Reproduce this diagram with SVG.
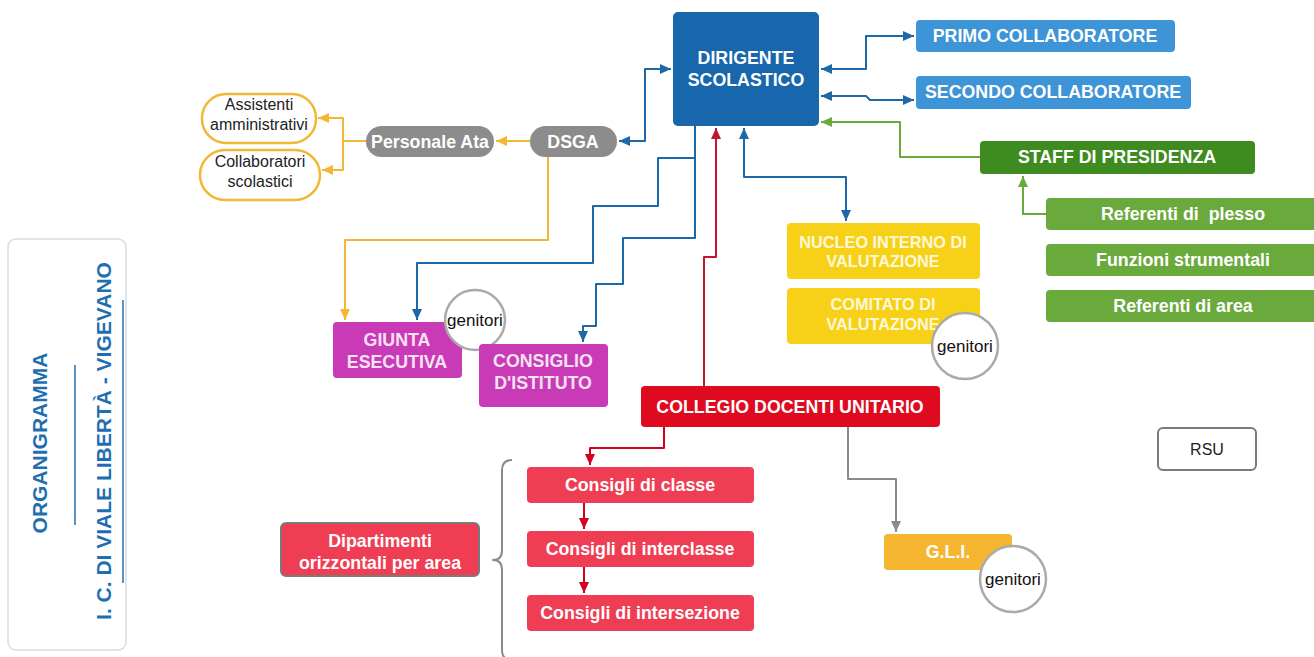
<svg xmlns="http://www.w3.org/2000/svg" width="1314" height="657" viewBox="0 0 1314 657">
<style>
.t{font-family:"Liberation Sans",Arial,sans-serif;font-weight:bold;font-size:17.8px;fill:#ffffff;text-anchor:middle}
.ty{font-family:"Liberation Sans",Arial,sans-serif;font-weight:bold;font-size:16.3px;fill:#fff8d8;text-anchor:middle}
.r{font-family:"Liberation Sans",Arial,sans-serif;font-size:16px;fill:#222;text-anchor:middle}
.g{font-family:"Liberation Sans",Arial,sans-serif;font-size:17px;fill:#111;text-anchor:middle}
.v{font-family:"Liberation Sans",Arial,sans-serif;font-weight:bold;font-size:21px;fill:#1f6fb0;text-anchor:middle}
.c{fill:none;stroke-width:2;stroke-linejoin:round}
.blue{stroke:#1c68a8}.green{stroke:#6aaa3c}.yel{stroke:#f2b734}.red{stroke:#d4001f}.dred{stroke:#c0172d}.gray{stroke:#8a8a8a}
.circ{fill:#fff;stroke:#aaaaaa;stroke-width:2.5}
</style>
<defs>
<marker id="mb" markerUnits="userSpaceOnUse" markerWidth="12" markerHeight="12" refX="11" refY="6" orient="auto-start-reverse"><path d="M0,1 L11,6 L0,11 z" fill="#1c68a8"/></marker>
<marker id="mg" markerUnits="userSpaceOnUse" markerWidth="12" markerHeight="12" refX="11" refY="6" orient="auto-start-reverse"><path d="M0,1 L11,6 L0,11 z" fill="#6aaa3c"/></marker>
<marker id="my" markerUnits="userSpaceOnUse" markerWidth="12" markerHeight="12" refX="11" refY="6" orient="auto-start-reverse"><path d="M0,1 L11,6 L0,11 z" fill="#f2b734"/></marker>
<marker id="mr" markerUnits="userSpaceOnUse" markerWidth="12" markerHeight="12" refX="11" refY="6" orient="auto-start-reverse"><path d="M0,1 L11,6 L0,11 z" fill="#d4001f"/></marker>
<marker id="mdr" markerUnits="userSpaceOnUse" markerWidth="12" markerHeight="12" refX="11" refY="6" orient="auto-start-reverse"><path d="M0,1 L11,6 L0,11 z" fill="#c0172d"/></marker>
<marker id="mgr" markerUnits="userSpaceOnUse" markerWidth="12" markerHeight="12" refX="11" refY="6" orient="auto-start-reverse"><path d="M0,1 L11,6 L0,11 z" fill="#8a8a8a"/></marker>
</defs>
<rect width="1314" height="657" fill="#ffffff"/>

<g id="title-panel">
<rect x="8" y="239" width="118" height="411" rx="8" fill="#fff" stroke="#d8dde3" stroke-width="1.5"/>
<text class="v" transform="translate(47,443) rotate(-90)">ORGANIGRAMMA</text>
<line x1="75" y1="365" x2="75" y2="525" stroke="#1f6fb0" stroke-width="1.5"/>
<text class="v" transform="translate(111,441) rotate(-90)">I. C. DI VIALE LIBERTÀ - VIGEVANO</text>
<line x1="123" y1="300" x2="123" y2="583" stroke="#1f6fb0" stroke-width="1.5"/>
</g>

<g id="connectors">
<path class="c blue" d="M619,141 L645,141 L645,69 L671,69" marker-start="url(#mb)" marker-end="url(#mb)"/>
<path class="c blue" d="M821,69 L866,69 L866,36 L914,36" marker-start="url(#mb)" marker-end="url(#mb)"/>
<path class="c blue" d="M821,96 L866,96 L870,100 L914,100" marker-start="url(#mb)" marker-end="url(#mb)"/>
<path class="c blue" d="M744,128 L744,177 L846,177 L846,221" marker-start="url(#mb)" marker-end="url(#mb)"/>
<path class="c blue" d="M695,126 L695,158 L658,158 L658,206 L593,206 L593,263 L417,263 L417,320" marker-end="url(#mb)"/>
<path class="c blue" d="M695,158 L695,238 L623,238 L623,284 L596,284 L596,326 L583,326 L583,342" marker-end="url(#mb)"/>
<path class="c green" d="M980,157 L900,157 L900,122 L821,122" marker-end="url(#mg)"/>
<path class="c green" d="M1046,214 L1023,214 L1023,176" marker-end="url(#mg)"/>
<path class="c yel" d="M530,141 L496,141" marker-end="url(#my)"/>
<path class="c yel" d="M366,141 L343,141 L343,118 L318,118" marker-end="url(#my)"/>
<path class="c yel" d="M343,141 L343,170 L322,170" marker-end="url(#my)"/>
<path class="c yel" d="M548,157 L548,240 L345,240 L345,320" marker-end="url(#my)"/>
<path class="c dred" d="M704,386 L704,257 L716,257 L716,128" marker-end="url(#mdr)"/>
<path class="c red" d="M664,427 L664,448 L590,448 L590,465" marker-end="url(#mr)"/>
<path class="c red" d="M584,503 L584,529" marker-end="url(#mr)"/>
<path class="c red" d="M584,567 L584,593" marker-end="url(#mr)"/>
<path class="c gray" d="M848,427 L848,479 L896,479 L896,532" marker-end="url(#mgr)"/>
<path class="c gray" d="M512,460 Q502,460 502,470 L502,550 Q502,560 493,560 Q502,560 502,570 L502,650 Q502,660 512,660"/>
</g>

<g id="dirigente">
<rect x="673" y="12" width="146" height="114" rx="5" fill="#1866ab"/>
<text class="t" x="746" y="64">DIRIGENTE</text>
<text class="t" x="746" y="86">SCOLASTICO</text>
</g>
<g id="primo">
<rect x="916" y="20" width="259" height="32" rx="4" fill="#3d94d6"/>
<text class="t" x="1045" y="42">PRIMO COLLABORATORE</text>
</g>
<g id="secondo">
<rect x="916" y="76" width="275" height="33" rx="4" fill="#3d94d6"/>
<text class="t" x="1053" y="98">SECONDO COLLABORATORE</text>
</g>
<g id="staff">
<rect x="980" y="141" width="275" height="33" rx="4" fill="#3e8b1f"/>
<text class="t" x="1117" y="163">STAFF DI PRESIDENZA</text>
</g>
<g id="referenti-plesso">
<rect x="1046" y="198" width="272" height="32" rx="4" fill="#6aaa3c"/>
<text class="t" x="1183" y="220">Referenti di&#160; plesso</text>
</g>
<g id="funzioni">
<rect x="1046" y="244" width="272" height="32" rx="4" fill="#6aaa3c"/>
<text class="t" x="1183" y="266">Funzioni strumentali</text>
</g>
<g id="referenti-area">
<rect x="1046" y="290" width="272" height="32" rx="4" fill="#6aaa3c"/>
<text class="t" x="1183" y="312">Referenti di area</text>
</g>
<g id="nucleo">
<rect x="787" y="223" width="193" height="56" rx="4" fill="#f7d117"/>
<text class="ty" x="883" y="248">NUCLEO INTERNO DI</text>
<text class="ty" x="883" y="267">VALUTAZIONE</text>
</g>
<g id="comitato">
<rect x="787" y="288" width="193" height="56" rx="4" fill="#f7d117"/>
<text class="ty" x="883" y="310">COMITATO DI</text>
<text class="ty" x="883" y="330">VALUTAZIONE</text>
<circle class="circ" cx="965" cy="346" r="33"/>
<text class="g" x="965" y="352">genitori</text>
</g>
<g id="dsga">
<rect x="530" y="126" width="87" height="31" rx="15.5" fill="#8c8c8c"/>
<text class="t" x="573" y="148">DSGA</text>
</g>
<g id="personale-ata">
<rect x="366" y="126" width="128" height="31" rx="15.5" fill="#8c8c8c"/>
<text class="t" x="430" y="148">Personale Ata</text>
</g>
<g id="assistenti">
<rect x="202" y="94" width="114" height="49" rx="24" fill="#fff" stroke="#f2b734" stroke-width="2.5"/>
<text class="r" x="259" y="110">Assistenti</text>
<text class="r" x="259" y="130">amministrativi</text>
</g>
<g id="collaboratori">
<rect x="200" y="150" width="120" height="50" rx="25" fill="#fff" stroke="#f2b734" stroke-width="2.5"/>
<text class="r" x="260" y="167">Collaboratori</text>
<text class="r" x="260" y="187">scolastici</text>
</g>
<g id="giunta">
<rect x="333" y="322" width="129" height="56" rx="4" fill="#c93ab7"/>
<text class="t" x="397" y="346" style="fill:#f8e2f4">GIUNTA</text>
<text class="t" x="397" y="368" style="fill:#f8e2f4">ESECUTIVA</text>
<circle class="circ" cx="475" cy="320" r="30"/>
<text class="g" x="475" y="326">genitori</text>
</g>
<g id="consiglio-istituto">
<rect x="479" y="344" width="129" height="63" rx="4" fill="#c93ab7"/>
<text class="t" x="543" y="367" style="fill:#f8e2f4">CONSIGLIO</text>
<text class="t" x="543" y="389" style="fill:#f8e2f4">D'ISTITUTO</text>
</g>
<g id="collegio">
<rect x="641" y="386" width="299" height="41" rx="4" fill="#df0a1f"/>
<text class="t" x="790" y="413">COLLEGIO DOCENTI UNITARIO</text>
</g>
<g id="consigli-classe">
<rect x="527" y="467" width="227" height="36" rx="4" fill="#ef3d54"/>
<text class="t" x="640" y="491">Consigli di classe</text>
</g>
<g id="consigli-interclasse">
<rect x="527" y="531" width="227" height="36" rx="4" fill="#ef3d54"/>
<text class="t" x="640" y="555">Consigli di interclasse</text>
</g>
<g id="consigli-intersezione">
<rect x="527" y="595" width="227" height="36" rx="4" fill="#ef3d54"/>
<text class="t" x="640" y="619">Consigli di intersezione</text>
</g>
<g id="dipartimenti">
<rect x="281" y="523" width="198" height="53" rx="5" fill="#ef3d54" stroke="#7a7a7a" stroke-width="2"/>
<text class="t" x="380" y="547">Dipartimenti</text>
<text class="t" x="380" y="569">orizzontali per area</text>
</g>
<g id="gli">
<rect x="884" y="534" width="128" height="36" rx="4" fill="#f6b530"/>
<text class="t" x="948" y="558">G.L.I.</text>
<circle class="circ" cx="1013" cy="579" r="33"/>
<text class="g" x="1013" y="585">genitori</text>
</g>
<g id="rsu">
<rect x="1158" y="428" width="98" height="42" rx="5" fill="#fff" stroke="#7a7a7a" stroke-width="2"/>
<text class="r" x="1207" y="455">RSU</text>
</g>
</svg>
